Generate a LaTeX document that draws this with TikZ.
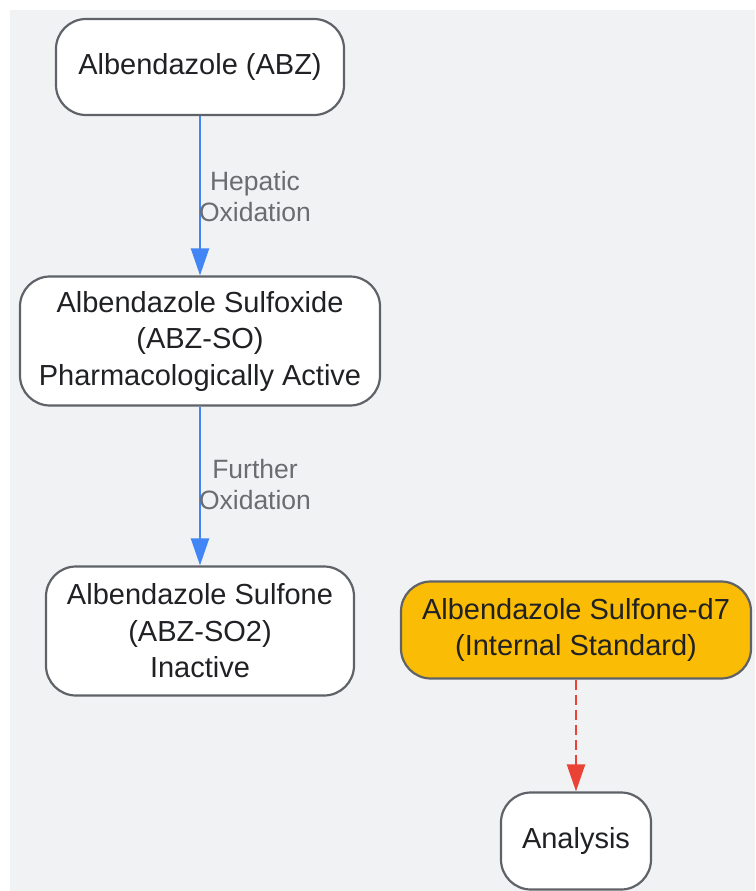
\documentclass[tikz,border=0pt]{standalone}
\usepackage{fontspec}
\setmainfont{Liberation Sans}
\usetikzlibrary{arrows.meta,positioning}
\definecolor{bgcol}{HTML}{F1F2F4}
\definecolor{edgecol}{HTML}{5F6368}
\definecolor{txtcol}{HTML}{202124}
\definecolor{lblcol}{HTML}{6A6C70}
\definecolor{flowblue}{HTML}{4285F4}
\definecolor{flowred}{HTML}{EA4335}
\definecolor{stdfill}{HTML}{FABC05}

\begin{document}
\begin{tikzpicture}[
    x=1pt, y=-1pt,
    box/.style={draw=edgecol, line width=2.2pt, fill=white, rounded corners=30pt,
        align=center, text=txtcol, inner sep=0pt,
        font=\fontsize{29}{36.5}\selectfont},
    lbl/.style={align=center, text=lblcol, inner sep=0pt,
        font=\fontsize{26.5}{31}\selectfont},
    flow/.style={draw=flowblue, line width=2.2pt, -{Triangle[length=27pt,width=18pt]}},
    stdflow/.style={draw=flowred, line width=2.2pt, dash pattern=on 10pt off 5pt,
        -{Triangle[length=27pt,width=18pt]}}
]
\useasboundingbox (0,0) rectangle (755,891);
\fill[bgcol] (10,10) rectangle (755,891);

% metabolic chain
\node[box, minimum width=288pt, minimum height=96pt] (abz) at (200,67) {Albendazole (ABZ)};
\node[box, minimum width=360pt, minimum height=129pt] (abzso) at (200,341)
    {Albendazole Sulfoxide\\(ABZ-SO)\\Pharmacologically Active};
\node[box, minimum width=308pt, minimum height=129pt] (abzso2) at (200,631)
    {Albendazole Sulfone\\(ABZ-SO2)\\Inactive};

% internal standard
\node[box, fill=stdfill, minimum width=350pt, minimum height=97pt] (istd) at (576,630)
    {Albendazole Sulfone-d7\\(Internal Standard)};
\node[box, minimum width=150pt, minimum height=97pt] (analysis) at (576,841) {Analysis};

\draw[flow] (abz) -- (abzso);
\draw[flow] (abzso) -- (abzso2);
\draw[stdflow] (istd) -- (analysis);

% edge labels
\node[lbl] (hep) at (255,197) {Hepatic\\Oxidation};
\node[lbl] (fur) at (255,485) {Further\\Oxidation};
\end{tikzpicture}
\end{document}
